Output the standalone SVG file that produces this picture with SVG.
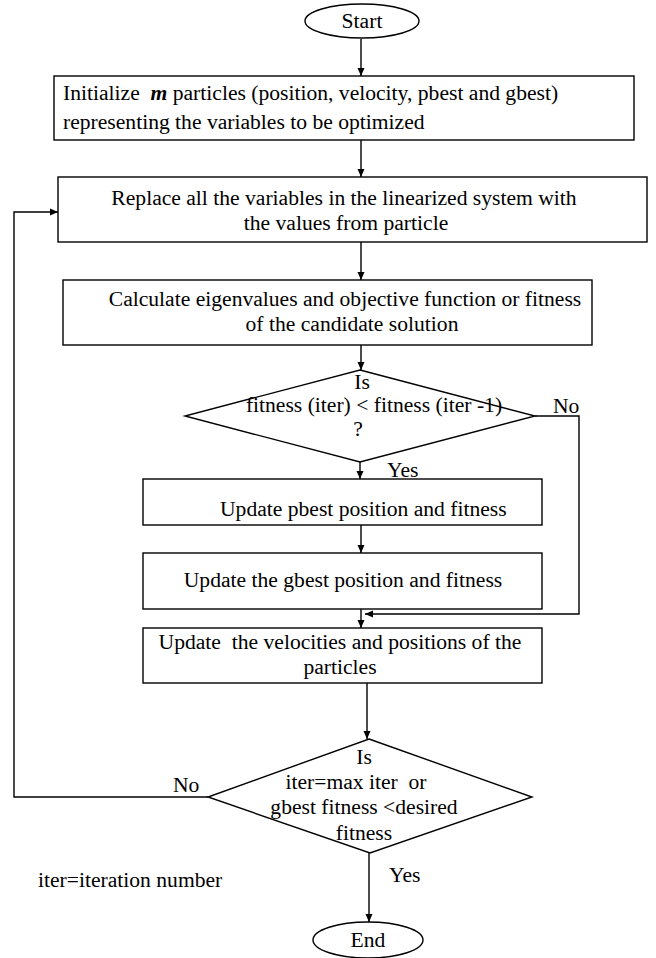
<svg xmlns="http://www.w3.org/2000/svg" width="656" height="958" viewBox="0 0 656 958">
<defs>
<marker id="ah" markerWidth="10" markerHeight="10" refX="9" refY="5" orient="auto" markerUnits="userSpaceOnUse">
<path d="M1,1.5 L9,5 L1,8.5 Z" fill="#000"/>
</marker>
<style>
.s{fill:#fff;stroke:#000;stroke-width:1.4}
.c{fill:none;stroke:#000;stroke-width:1.4}
text{font-family:"Liberation Serif","Times New Roman",serif;font-size:21.6px;fill:#000;white-space:pre}
.m{text-anchor:middle}
</style>
</defs>
<rect width="656" height="958" fill="#fff"/>
<g id="connectors">
<line class="c" x1="361" y1="39" x2="361" y2="76" marker-end="url(#ah)"/>
<line class="c" x1="361" y1="140" x2="361" y2="177" marker-end="url(#ah)"/>
<line class="c" x1="361" y1="242" x2="361" y2="280" marker-end="url(#ah)"/>
<line class="c" x1="361" y1="345" x2="361" y2="370" marker-end="url(#ah)"/>
<line class="c" x1="360" y1="462" x2="360" y2="479" marker-end="url(#ah)"/>
<line class="c" x1="361" y1="525" x2="361" y2="553" marker-end="url(#ah)"/>
<line class="c" x1="361" y1="609" x2="361" y2="628" marker-end="url(#ah)"/>
<polyline class="c" points="535,416 579,416 579,614 365,614" marker-end="url(#ah)"/>
<line class="c" x1="367" y1="683" x2="367" y2="739" marker-end="url(#ah)"/>
<polyline class="c" points="208,797 14,797 14,212 58,212" marker-end="url(#ah)"/>
<line class="c" x1="369" y1="853" x2="369" y2="922" marker-end="url(#ah)"/>
<text x="553" y="413">No</text>
<text x="387" y="477">Yes</text>
<text x="173" y="792">No</text>
<text x="389" y="882">Yes</text>
</g>
<g id="start">
<ellipse class="s" cx="362" cy="21" rx="57" ry="17"/>
<text class="m" x="362" y="28">Start</text>
</g>
<g id="init">
<rect class="s" x="54" y="76" width="580" height="64"/>
<text x="63" y="100">Initialize  <tspan font-style="italic" font-weight="bold">m</tspan> particles (position, velocity, pbest and gbest)</text>
<text x="63" y="129">representing the variables to be optimized</text>
</g>
<g id="replace">
<rect class="s" x="58" y="177" width="589" height="65"/>
<text class="m" x="344" y="205">Replace all the variables in the linearized system with</text>
<text class="m" x="346" y="230">the values from particle</text>
</g>
<g id="calc">
<rect class="s" x="63" y="280" width="529" height="65"/>
<text class="m" x="345" y="306">Calculate eigenvalues and objective function or fitness</text>
<text class="m" x="352" y="331">of the candidate solution</text>
</g>
<g id="decision1">
<polygon class="s" points="360,370 535,416 360,462 185,416"/>
<text class="m" x="362" y="389">Is</text>
<text class="m" x="374" y="412">fitness (iter) &lt; fitness (iter -1)</text>
<text class="m" x="358" y="436">?</text>
</g>
<g id="pbest">
<rect class="s" x="143" y="479" width="399" height="46"/>
<text x="220" y="516">Update pbest position and fitness</text>
</g>
<g id="gbest">
<rect class="s" x="143" y="553" width="399" height="56"/>
<text class="m" x="343" y="587">Update the gbest position and fitness</text>
</g>
<g id="velocities">
<rect class="s" x="143" y="628" width="399" height="55"/>
<text class="m" x="340" y="649">Update  the velocities and positions of the</text>
<text class="m" x="340" y="674">particles</text>
</g>
<g id="decision2">
<polygon class="s" points="369,739 532,797 370,853 208,797"/>
<text class="m" x="364" y="764">Is</text>
<text class="m" x="356" y="789">iter=max iter  or</text>
<text class="m" x="364" y="814">gbest fitness &lt;desired</text>
<text class="m" x="364" y="840">fitness</text>
</g>
<g id="note">
<text x="38" y="887">iter=iteration number</text>
</g>
<g id="end">
<ellipse class="s" cx="368" cy="940" rx="55" ry="18"/>
<text class="m" x="368" y="947">End</text>
</g>
</svg>
